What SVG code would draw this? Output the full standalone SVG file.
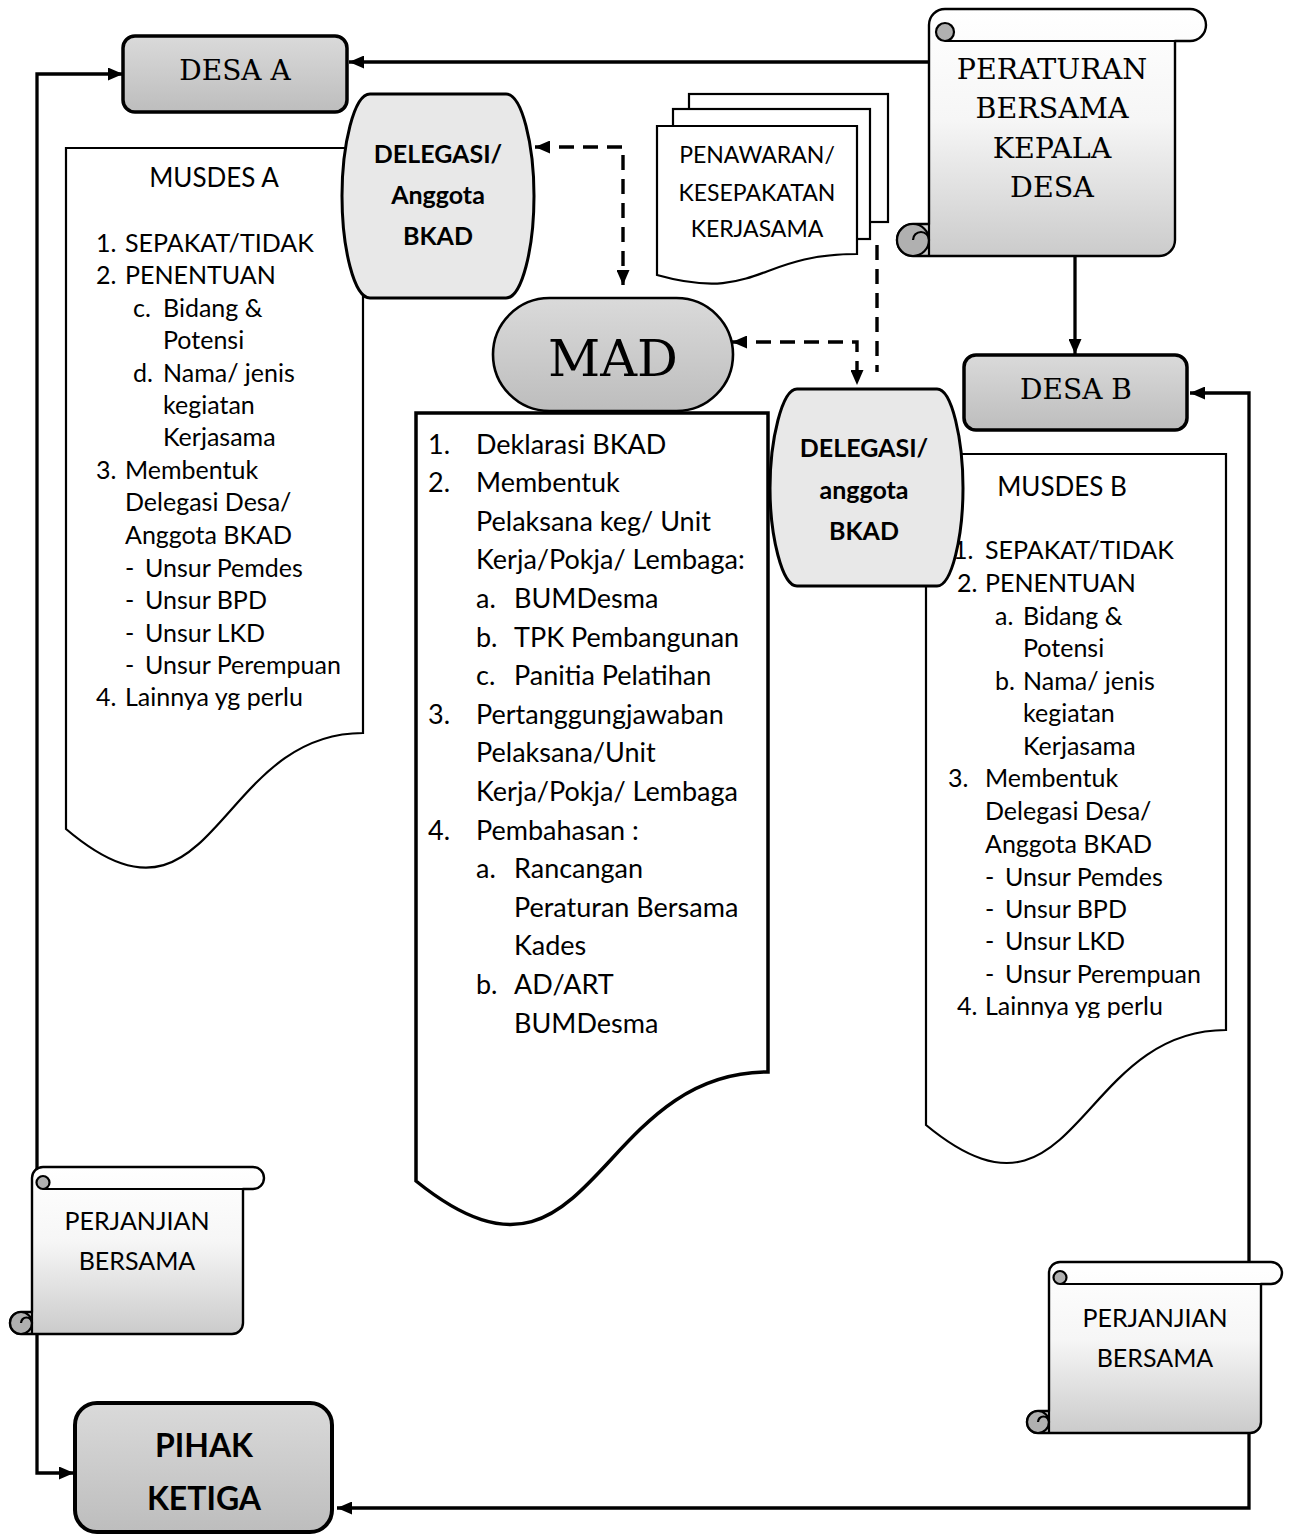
<svg xmlns="http://www.w3.org/2000/svg" width="1293" height="1535" viewBox="0 0 1293 1535">
<defs>
<style>
.sans{font-family:Lato,"Liberation Sans",sans-serif;fill:#000}
.serif{font-family:"DejaVu Serif","Liberation Serif",serif;fill:#000}
.b{font-weight:bold}
.mid{text-anchor:middle}
.doc{fill:#fff;stroke:#000;stroke-width:2.2}
.box{fill:url(#gbox);stroke:#000;stroke-width:3.5}
.deleg{fill:#e8e8e8;stroke:#000;stroke-width:3}
.scroll{fill:url(#gscroll);stroke:#000;stroke-width:2.4;stroke-linejoin:round}
.curl{fill:#b0b0b0;stroke:#000;stroke-width:2.2}
.line{fill:none;stroke:#000;stroke-width:2.2}
.conn{fill:none;stroke:#000;stroke-width:3.3}
.dash{fill:none;stroke:#000;stroke-width:3.4;stroke-dasharray:15 9}
.t25{font-size:25px}
.t27{font-size:27px}
</style>
<linearGradient id="gbox" x1="0" y1="0" x2="0" y2="1">
<stop offset="0" stop-color="#dadada"/><stop offset="1" stop-color="#bdbdbd"/>
</linearGradient>
<linearGradient id="gscroll" x1="0" y1="0" x2="0" y2="1">
<stop offset="0" stop-color="#ffffff"/><stop offset="0.45" stop-color="#f6f6f6"/><stop offset="1" stop-color="#cbcbcb"/>
</linearGradient>
<marker id="ah" viewBox="0 0 15 13" refX="15" refY="6.5" markerWidth="15" markerHeight="13" markerUnits="userSpaceOnUse" orient="auto-start-reverse">
<path d="M0,0 L15,6.5 L0,13 z" fill="#000"/>
</marker>
<clipPath id="clipB"><rect x="900" y="440" width="340" height="578"/></clipPath>
</defs>
<rect width="1293" height="1535" fill="#fff"/>

<g id="connectors">
<path class="conn" d="M929,62 H349" marker-end="url(#ah)"/>
<path class="conn" d="M1075,256 V354" marker-end="url(#ah)"/>
<path class="conn" d="M123,74 H37 V1473 H74" marker-start="url(#ah)" marker-end="url(#ah)"/>
<path class="conn" d="M1190,393 H1249 V1508 H337" marker-start="url(#ah)" marker-end="url(#ah)"/>
<path class="dash" d="M535,147 H623 V285" marker-start="url(#ah)" marker-end="url(#ah)"/>
<path class="dash" d="M732,342 H857 V385" marker-start="url(#ah)" marker-end="url(#ah)"/>
<path class="dash" d="M877,245 V372"/>
</g>

<g id="desa-a">
<rect class="box" x="123" y="36" width="224" height="76" rx="12"/>
<text class="serif mid" x="235" y="80" font-size="28">DESA A</text>
</g>

<g id="musdes-a">
<path class="doc" d="M66,148 H363 V733 C214.5,733 214.5,955 66,829 Z"/>
<g class="sans t25">
<text class="mid" x="214" y="187" font-size="26">MUSDES A</text>
<text x="96" y="252">1.</text><text x="125" y="252">SEPAKAT/TIDAK</text>
<text x="96" y="284">2.</text><text x="125" y="284">PENENTUAN</text>
<text x="133" y="317">c.</text><text x="163" y="317">Bidang &amp;</text>
<text x="163" y="349">Potensi</text>
<text x="133" y="382">d.</text><text x="163" y="382">Nama/ jenis</text>
<text x="163" y="414">kegiatan</text>
<text x="163" y="446">Kerjasama</text>
<text x="96" y="479">3.</text><text x="125" y="479">Membentuk</text>
<text x="125" y="511">Delegasi Desa/</text>
<text x="125" y="544">Anggota BKAD</text>
<text x="125" y="577">-</text><text x="145" y="577">Unsur Pemdes</text>
<text x="125" y="609">-</text><text x="145" y="609">Unsur BPD</text>
<text x="125" y="642">-</text><text x="145" y="642">Unsur LKD</text>
<text x="125" y="674">-</text><text x="145" y="674">Unsur Perempuan</text>
<text x="96" y="706">4.</text><text x="125" y="706">Lainnya yg perlu</text>
</g>
</g>

<g id="delegasi-a">
<path class="deleg" d="M370,94 H506 C522,94 534,145 534,196 C534,248 522,298 506,298 H370 C354,298 342,248 342,196 C342,145 354,94 370,94 Z"/>
<g class="sans b mid" font-size="25">
<text x="438" y="163">DELEGASI/</text>
<text x="438" y="204">Anggota</text>
<text x="438" y="245">BKAD</text>
</g>
</g>

<g id="penawaran">
<rect class="doc" x="689" y="94" width="199" height="128"/>
<rect class="doc" x="673" y="109" width="197" height="130"/>
<path class="doc" d="M657,126 H857 V254 C757,254 757,303 657,275 Z"/>
<g class="sans mid" font-size="23">
<text x="757" y="163">PENAWARAN/</text>
<text x="757" y="201">KESEPAKATAN</text>
<text x="757" y="237">KERJASAMA</text>
</g>
</g>

<g id="peraturan">
<path class="scroll" d="M929,25 A16,16 0 0 1 945,9 H1190 A16,16 0 0 1 1190,41 H1175 V240 A16,16 0 0 1 1159,256 H913 A16,16 0 0 1 913,224 H929 Z"/>
<path class="line" d="M945,41 H1175"/>
<circle class="curl" cx="945" cy="32" r="9"/>
<circle class="curl" cx="913" cy="240" r="16"/>
<path class="line" d="M913,240 A8,8 0 0 1 929,240 M929,224 V256"/>
<g class="serif mid" font-size="28.5">
<text x="1052" y="79">PERATURAN</text>
<text x="1052" y="118">BERSAMA</text>
<text x="1052" y="158">KEPALA</text>
<text x="1052" y="197">DESA</text>
</g>
</g>

<g id="mad-doc">
<path class="doc" style="stroke-width:3.5" d="M416,413 H768 V1072 C592,1072 592,1323 416,1181 Z"/>
<g class="sans t27">
<text x="428" y="454">1.</text><text x="476" y="454">Deklarasi BKAD</text>
<text x="428" y="492">2.</text><text x="476" y="492">Membentuk</text>
<text x="476" y="531">Pelaksana keg/ Unit</text>
<text x="476" y="569">Kerja/Pokja/ Lembaga:</text>
<text x="476" y="608">a.</text><text x="514" y="608">BUMDesma</text>
<text x="476" y="647">b.</text><text x="514" y="647">TPK Pembangunan</text>
<text x="476" y="685">c.</text><text x="514" y="685">Panitia Pelatihan</text>
<text x="428" y="724">3.</text><text x="476" y="724">Pertanggungjawaban</text>
<text x="476" y="762">Pelaksana/Unit</text>
<text x="476" y="801">Kerja/Pokja/ Lembaga</text>
<text x="428" y="840">4.</text><text x="476" y="840">Pembahasan :</text>
<text x="476" y="878">a.</text><text x="514" y="878">Rancangan</text>
<text x="514" y="917">Peraturan Bersama</text>
<text x="514" y="955">Kades</text>
<text x="476" y="994">b.</text><text x="514" y="994">AD/ART</text>
<text x="514" y="1033">BUMDesma</text>
</g>
</g>

<g id="mad">
<rect class="box" style="stroke-width:2.6" x="493" y="298" width="240" height="113" rx="56.5"/>
<text class="serif mid" x="613" y="376" font-size="51">MAD</text>
</g>

<g id="desa-b">
<rect class="box" x="964" y="355" width="223" height="75" rx="12"/>
<text class="serif mid" x="1076" y="399" font-size="28">DESA B</text>
</g>

<g id="musdes-b">
<path class="doc" d="M926,454 H1226 V1030 C1076,1030 1076,1249 926,1125 Z"/>
<g class="sans t25">
<text class="mid" x="1062" y="496" font-size="26">MUSDES B</text>
<text x="953" y="559">1.</text><text x="985" y="559">SEPAKAT/TIDAK</text>
<text x="957" y="592">2.</text><text x="985" y="592">PENENTUAN</text>
<text x="995" y="625">a.</text><text x="1023" y="625">Bidang &amp;</text>
<text x="1023" y="657">Potensi</text>
<text x="995" y="690">b.</text><text x="1023" y="690">Nama/ jenis</text>
<text x="1023" y="722">kegiatan</text>
<text x="1023" y="755">Kerjasama</text>
<text x="948" y="787">3.</text><text x="985" y="787">Membentuk</text>
<text x="985" y="820">Delegasi Desa/</text>
<text x="985" y="853">Anggota BKAD</text>
<text x="985" y="886">-</text><text x="1005" y="886">Unsur Pemdes</text>
<text x="985" y="918">-</text><text x="1005" y="918">Unsur BPD</text>
<text x="985" y="950">-</text><text x="1005" y="950">Unsur LKD</text>
<text x="985" y="983">-</text><text x="1005" y="983">Unsur Perempuan</text>
<g clip-path="url(#clipB)"><text x="957" y="1015">4.</text><text x="985" y="1015">Lainnya yg perlu</text></g>
</g>
</g>

<g id="delegasi-b">
<path class="deleg" d="M797,389 H937 C952,389 963,440 963,488 C963,536 952,586 937,586 H797 C782,586 770,536 770,488 C770,440 782,389 797,389 Z"/>
<g class="sans b mid" font-size="25">
<text x="864" y="457">DELEGASI/</text>
<text x="864" y="499">anggota</text>
<text x="864" y="540">BKAD</text>
</g>
</g>

<g id="perjanjian-a">
<path class="scroll" d="M32,1178 A11,11 0 0 1 43,1167 H253 A11,11 0 0 1 253,1189 H243 V1323 A11,11 0 0 1 232,1334 H21 A11,11 0 0 1 21,1312 H32 Z"/>
<path class="line" d="M43,1189 H243"/>
<circle class="curl" cx="43" cy="1182.5" r="6.5"/>
<circle class="curl" cx="21" cy="1323" r="11"/>
<path class="line" d="M21,1323 A5.5,5.5 0 0 1 32,1323 M32,1312 V1334"/>
<g class="sans mid" font-size="25">
<text x="137" y="1230">PERJANJIAN</text>
<text x="137" y="1270">BERSAMA</text>
</g>
</g>

<g id="perjanjian-b">
<path class="scroll" d="M1049,1273 A11,11 0 0 1 1060,1262 H1271 A11,11 0 0 1 1271,1284 H1261 V1422 A11,11 0 0 1 1250,1433 H1038 A11,11 0 0 1 1038,1411 H1049 Z"/>
<path class="line" d="M1060,1284 H1261"/>
<circle class="curl" cx="1060" cy="1277.5" r="6.5"/>
<circle class="curl" cx="1038" cy="1422" r="11"/>
<path class="line" d="M1038,1422 A5.5,5.5 0 0 1 1049,1422 M1049,1411 V1433"/>
<g class="sans mid" font-size="25">
<text x="1155" y="1327">PERJANJIAN</text>
<text x="1155" y="1367">BERSAMA</text>
</g>
</g>

<g id="pihak-ketiga">
<rect class="box" style="stroke-width:4" x="75" y="1403" width="257" height="129" rx="22"/>
<g class="sans b mid" font-size="32">
<text x="204" y="1457">PIHAK</text>
<text x="204" y="1510">KETIGA</text>
</g>
</g>
</svg>
